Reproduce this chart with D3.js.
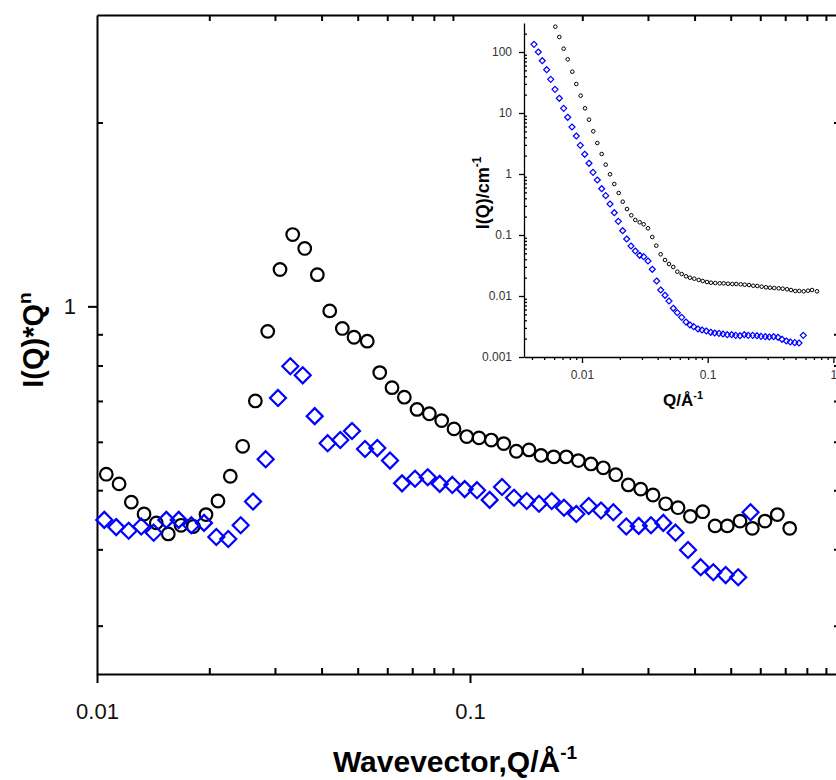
<!DOCTYPE html>
<html><head><meta charset="utf-8">
<script src="https://cdn.jsdelivr.net/npm/d3@7/dist/d3.min.js"></script>
<style>
html,body{margin:0;padding:0;background:#fff;}
svg{display:block;}
text{font-family:"Liberation Sans",Arial,sans-serif;}
</style></head>
<body>
<svg id="chart" width="836" height="780"></svg>
<script>
// ---------- main plot data: I(Q)*Q^n vs Q ----------
const qBlackMain = [0.01059,0.01146,0.01236,0.01337,0.01442,0.01553,0.01680,0.01812,0.01960,0.02110,
 0.02277,0.02458,0.02658,0.02869,0.03095,0.03347,0.03605,0.03897,0.04207,0.04547,
 0.04887,0.05304,0.05728,0.06179,0.06667,0.07211,0.07780,0.08397,0.09060,0.09798,
 0.10571,0.11405,0.12313,0.13310,0.14394,0.15502,0.16764,0.18120,0.19520,0.21106,
 0.22772,0.24584,0.26575,0.28687,0.30946,0.33465,0.36114,0.38967,0.42066,0.45400,
 0.48946,0.52952,0.57140,0.61785,0.66665,0.71968];
const vBlackMain = [0.531,0.512,0.478,0.457,0.442,0.424,0.438,0.436,0.456,0.480,
 0.527,0.590,0.700,0.910,1.149,1.311,1.244,1.127,0.983,0.920,
 0.890,0.877,0.779,0.736,0.710,0.678,0.667,0.650,0.630,0.612,
 0.609,0.604,0.596,0.579,0.582,0.570,0.567,0.567,0.559,0.552,
 0.544,0.530,0.510,0.502,0.491,0.475,0.468,0.453,0.461,0.437,
 0.437,0.445,0.433,0.445,0.456,0.433];
const qBlueMain = [0.01046,0.01126,0.01216,0.01314,0.01419,0.01534,0.01656,0.01790,0.01936,0.02089,
 0.02249,0.02428,0.02620,0.02833,0.03057,0.03298,0.03561,0.03834,0.04154,0.04490,
 0.04827,0.05230,0.05643,0.06103,0.06573,0.07121,0.07703,0.08294,0.08966,0.09678,
 0.10442,0.11292,0.12185,0.13122,0.14191,0.15311,0.16558,0.17865,0.19275,0.20807,
 0.22450,0.24222,0.26240,0.28334,0.30567,0.32975,0.35563,0.38415,0.41538,0.44898,
 0.48465,0.52367,0.56507];
const vBlueMain = [0.447,0.435,0.429,0.436,0.426,0.447,0.447,0.438,0.442,0.419,
 0.416,0.438,0.479,0.562,0.708,0.798,0.771,0.661,0.597,0.604,
 0.625,0.584,0.586,0.559,0.513,0.522,0.525,0.512,0.510,0.502,
 0.500,0.482,0.506,0.486,0.480,0.475,0.480,0.468,0.457,0.471,
 0.463,0.460,0.436,0.437,0.438,0.442,0.426,0.399,0.374,0.367,
 0.363,0.360,0.460];

// ---------- inset data: I(Q) vs Q ----------
const qBlackInset = [0.006133,0.006599,0.00715,0.007695,0.008372,0.009008,0.009765,0.010565,0.011368,0.012302,
 0.013234,0.014346,0.015437,0.016703,0.018071,0.019587,0.02108,0.022803,0.024671,0.026548,
 0.028776,0.030962,0.033502,0.036247,0.039003,0.042275,0.04574,0.049216,0.053255,0.05731,
 0.062111,0.067206,0.072314,0.078236,0.084799,0.091252,0.098726,0.10623,0.11494,0.12459,
 0.13408,0.14504,0.15694,0.16885,0.18303,0.19700,0.21308,0.23057,0.24810,0.26888,
 0.29096,0.31305,0.33866,0.36717,0.39513,0.42750,0.45996,0.49771,0.53547,0.58031,
 0.62806,0.67578,0.74068];
const iBlackInset = [259.9,176.2,113.3,75.92,47.53,29.88,19.21,11.94,7.766,5.012,
 3.223,2.128,1.421,0.9888,0.6856,0.4882,0.3514,0.2668,0.2104,0.1762,
 0.1616,0.1498,0.1288,0.09273,0.06678,0.04827,0.03892,0.03347,0.02988,0.02503,
 0.02295,0.02104,0.01995,0.01921,0.01830,0.01762,0.01697,0.01652,0.01634,0.01615,
 0.01615,0.01591,0.01573,0.01573,0.01555,0.01532,0.01515,0.01475,0.01459,0.01421,
 0.01389,0.01368,0.01352,0.01337,0.01317,0.01288,0.01254,0.01208,0.01208,0.01194,
 0.01221,0.01254,0.01194];
const qBlueInset = [0.00415,0.004491,0.004831,0.005238,0.005636,0.006099,0.006599,0.00715,0.007695,0.008326,
 0.009008,0.009694,0.010507,0.011368,0.012233,0.013234,0.014346,0.015437,0.016703,0.018071,
 0.019448,0.02108,0.022678,0.024536,0.026548,0.028776,0.030962,0.033502,0.036247,0.039289,
 0.042275,0.04574,0.049216,0.053255,0.05731,0.062111,0.067206,0.072314,0.077394,0.083717,
 0.090096,0.097464,0.10565,0.11368,0.12302,0.13234,0.14319,0.15523,0.16703,0.18071,
 0.19552,0.21036,0.22803,0.24671,0.26548,0.28727,0.30907,0.33496,0.36247,0.39003,
 0.42206,0.45412,0.49216,0.53255,0.57608];
const iBlueInset = [133.7,100,72.0,51.26,35.68,24.46,17.42,11.94,8.502,5.896,
 4.198,2.954,2.104,1.498,1.066,0.7973,0.5741,0.441,0.3223,0.2320,
 0.1677,0.1176,0.08597,0.06602,0.05467,0.04648,0.04409,0.03748,0.02740,0.01762,
 0.01254,0.01027,0.008279,0.006286,0.005324,0.004475,0.003748,0.003347,0.003139,0.002877,
 0.002771,0.002668,0.002541,0.002474,0.002446,0.002382,0.002320,0.002320,0.002268,0.002234,
 0.002320,0.002268,0.002268,0.002234,0.002184,0.002151,0.002127,0.002151,0.002104,0.001951,
 0.001829,0.001762,0.001716,0.001697,0.002268];

// ---------- ticks ----------
const mainXMajor = [0.01, 0.1];
const mainXMajorLabels = ["0.01", "0.1"];
const mainXMinor = [0.02,0.03,0.04,0.05,0.06,0.07,0.08,0.09,0.2,0.3,0.4,0.5,0.6,0.7,0.8,0.9];
const mainYMajor = [1];
const mainYMajorLabels = ["1"];
const mainYMinor = [0.3,0.4,0.5,0.6,0.7,0.8,0.9,2];
const insetXMajor = [0.01, 0.1, 1];
const insetXMajorLabels = ["0.01", "0.1", "1"];
const insetXMinor = [0.004,0.005,0.006,0.007,0.008,0.009,0.02,0.03,0.04,0.05,0.06,0.07,0.08,0.09,
 0.2,0.3,0.4,0.5,0.6,0.7,0.8,0.9];
const insetYMajor = [0.001, 0.01, 0.1, 1, 10, 100];
const insetYMajorLabels = ["0.001", "0.01", "0.1", "1", "10", "100"];
const insetYMinor = [0.002,0.003,0.004,0.005,0.006,0.007,0.008,0.009,
 0.02,0.03,0.04,0.05,0.06,0.07,0.08,0.09,0.2,0.3,0.4,0.5,0.6,0.7,0.8,0.9,
 2,3,4,5,6,7,8,9,20,30,40,50,60,70,80,90,200];

const svg = d3.select("#chart");
const font = '"Liberation Sans",Arial,sans-serif';

// ---------- main scales ----------
const M = {left:97, top:15, bottom:674, right:843, rightAxis:840};
const x = d3.scaleLog().domain([0.01, 1]).range([M.left, M.right]);
const y = d3.scaleLog().domain([0.25, 3]).range([M.bottom, M.top]);

function styleAxis(g, sw) {
  g.selectAll("path.domain").attr("stroke", "#000").attr("stroke-width", sw);
  g.selectAll("line").attr("stroke", "#000").attr("stroke-width", sw);
}

// bottom axis
const gB1 = svg.append("g").attr("transform", `translate(0,${M.bottom})`)
  .call(d3.axisBottom(x).tickValues(mainXMinor).tickSize(-6).tickSizeOuter(0).tickFormat(""));
styleAxis(gB1, 2);
const gB2 = svg.append("g").attr("transform", `translate(0,${M.bottom})`)
  .call(d3.axisBottom(x).tickValues(mainXMajor).tickSize(9).tickPadding(20)
        .tickFormat((d,i) => mainXMajorLabels[i]));
gB2.select("path.domain").remove();
styleAxis(gB2, 2);
gB2.selectAll("text").attr("font-size", 22).attr("fill", "#111").attr("font-family", font);

// top axis
const gT1 = svg.append("g").attr("transform", `translate(0,${M.top})`)
  .call(d3.axisTop(x).tickValues(mainXMinor).tickSize(-6).tickSizeOuter(0).tickFormat(""));
styleAxis(gT1, 2);

// left axis
const gL1 = svg.append("g").attr("transform", `translate(${M.left},0)`)
  .call(d3.axisLeft(y).tickValues(mainYMinor).tickSize(-6).tickSizeOuter(0).tickFormat(""));
styleAxis(gL1, 2);
const gL2 = svg.append("g").attr("transform", `translate(${M.left},0)`)
  .call(d3.axisLeft(y).tickValues(mainYMajor).tickSize(9).tickPadding(12)
        .tickFormat((d,i) => mainYMajorLabels[i]));
gL2.select("path.domain").remove();
styleAxis(gL2, 2);
gL2.selectAll("text").attr("font-size", 22).attr("fill", "#111").attr("font-family", font);

// right axis (mostly outside the picture)
const gR1 = svg.append("g").attr("transform", `translate(${M.rightAxis},0)`)
  .call(d3.axisRight(y).tickValues(mainYMinor).tickSize(-6).tickSizeOuter(0).tickFormat(""));
styleAxis(gR1, 2);

// main axis titles
const yt = svg.append("text")
  .attr("transform", "translate(43,340) rotate(-90)")
  .attr("text-anchor", "middle").attr("font-weight", "bold").attr("font-size", 29).attr("fill", "#000");
yt.append("tspan").text("I(Q)*Q");
yt.append("tspan").attr("font-size", 19).attr("dy", -12).text("n");

const xt = svg.append("text")
  .attr("x", 455).attr("y", 772)
  .attr("text-anchor", "middle").attr("font-weight", "bold").attr("font-size", 30).attr("fill", "#000");
xt.append("tspan").text("Wavevector,Q/Å");
xt.append("tspan").attr("font-size", 19).attr("dy", -13).text("-1");

// main markers
const mainBlack = qBlackMain.map((q,i) => ({q, v: vBlackMain[i]}));
const mainBlue = qBlueMain.map((q,i) => ({q, v: vBlueMain[i]}));
const diamond = s => `M0,${-s}L${s},0L0,${s}L${-s},0Z`;

svg.append("g").selectAll("circle").data(mainBlack).join("circle")
  .attr("cx", d => x(d.q)).attr("cy", d => y(d.v)).attr("r", 6.3)
  .attr("fill", "none").attr("stroke", "#000").attr("stroke-width", 2.2);
svg.append("g").selectAll("path").data(mainBlue).join("path")
  .attr("transform", d => `translate(${x(d.q)},${y(d.v)})`)
  .attr("d", diamond(8)).attr("fill", "none").attr("stroke", "#0000ff").attr("stroke-width", 2.2);

// ---------- inset ----------
const I = {left:524, right:836, top:23, bottom:357};
const ix = d3.scaleLog().domain([0.003456, 1.049]).range([I.left, I.right]);
const iy = d3.scaleLog().domain([0.001, 298.8]).range([I.bottom, I.top]);
const inset = svg.append("g");

const iB1 = inset.append("g").attr("transform", `translate(0,${I.bottom})`)
  .call(d3.axisBottom(ix).tickValues(insetXMinor).tickSize(3).tickSizeOuter(0).tickFormat(""));
styleAxis(iB1, 1.3);
const iB2 = inset.append("g").attr("transform", `translate(0,${I.bottom})`)
  .call(d3.axisBottom(ix).tickValues(insetXMajor).tickSize(6).tickPadding(7)
        .tickFormat((d,i) => insetXMajorLabels[i]));
iB2.select("path.domain").remove();
styleAxis(iB2, 1.3);
iB2.selectAll("text").attr("font-size", 12).attr("fill", "#333").attr("font-family", font);

const iL1 = inset.append("g").attr("transform", `translate(${I.left},0)`)
  .call(d3.axisLeft(iy).tickValues(insetYMinor).tickSize(-3).tickSizeOuter(0).tickFormat(""));
styleAxis(iL1, 1.3);
const iL2 = inset.append("g").attr("transform", `translate(${I.left},0)`)
  .call(d3.axisLeft(iy).tickValues(insetYMajor).tickSize(5).tickPadding(7)
        .tickFormat((d,i) => insetYMajorLabels[i]));
iL2.select("path.domain").remove();
styleAxis(iL2, 1.3);
iL2.selectAll("text").attr("font-size", 12).attr("fill", "#333").attr("font-family", font);

const iyt = inset.append("text")
  .attr("transform", "translate(489,193) rotate(-90)")
  .attr("text-anchor", "middle").attr("font-weight", "bold").attr("font-size", 18).attr("fill", "#000");
iyt.append("tspan").text("I(Q)/cm");
iyt.append("tspan").attr("font-size", 12).attr("dy", -8).text("-1");

const ixt = inset.append("text")
  .attr("x", 683).attr("y", 406)
  .attr("text-anchor", "middle").attr("font-weight", "bold").attr("font-size", 17).attr("fill", "#000");
ixt.append("tspan").text("Q/Å");
ixt.append("tspan").attr("font-size", 11).attr("dy", -7).text("-1");

const insBlack = qBlackInset.map((q,i) => ({q, v: iBlackInset[i]}));
const insBlue = qBlueInset.map((q,i) => ({q, v: iBlueInset[i]}));
inset.append("g").selectAll("circle").data(insBlack).join("circle")
  .attr("cx", d => ix(d.q)).attr("cy", d => iy(d.v)).attr("r", 1.8)
  .attr("fill", "none").attr("stroke", "#000").attr("stroke-width", 1);
inset.append("g").selectAll("path").data(insBlue).join("path")
  .attr("transform", d => `translate(${ix(d.q)},${iy(d.v)})`)
  .attr("d", diamond(3)).attr("fill", "none").attr("stroke", "#0000ff").attr("stroke-width", 1.2);
</script>
</body></html>
